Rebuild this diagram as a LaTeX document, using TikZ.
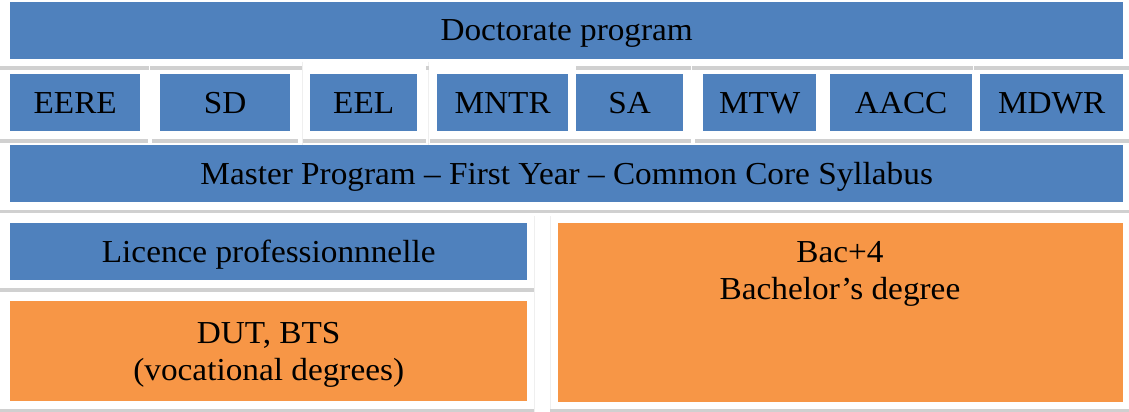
\documentclass[tikz,border=0pt]{standalone}
\usepackage{fontspec}
\setmainfont[FakeStretch=1.04]{Liberation Serif}
\definecolor{boxblue}{HTML}{4F81BD}
\definecolor{boxorange}{HTML}{F79646}
\definecolor{rulegray}{HTML}{D0D0D0}
\definecolor{faintgray}{HTML}{EFEFEF}
\begin{document}
\begin{tikzpicture}[x=1pt,y=-1pt,
  box/.style={draw=none, inner sep=0pt, anchor=north west, text=black, align=center,
              text depth=0pt, font=\fontsize{32}{37}\selectfont},
  bluebox/.style={box, fill=boxblue},
  orangebox/.style={box, fill=boxorange},
  bar/.style={fill=rulegray, draw=none},
  faint/.style={draw=faintgray, line width=1pt}]
\useasboundingbox[fill=white] (0,0) rectangle (1129,412);
% faint cell borders
\draw[faint] (302,62) -- (302,145);
\draw[faint] (428,62) -- (428,145);
\draw[faint] (534,216) -- (534,412);
\draw[faint] (550,216) -- (550,412);
% gray rules
\fill[bar] (0,66) rectangle (149,70);
\fill[bar] (150,66) rectangle (302,70);
\fill[bar] (426,66) rectangle (429,70);
\fill[bar] (576,66) rectangle (691,70);
\fill[bar] (692,66) rectangle (973,70);
\fill[bar] (974,66) rectangle (1129,70);
\fill[bar] (0,139) rectangle (148,143);
\fill[bar] (152,139) rectangle (298,143);
\fill[bar] (303,139) rectangle (426,143);
\fill[bar] (430,139) rectangle (691,143);
\fill[bar] (695,139) rectangle (1129,143);
\fill[bar] (0,210) rectangle (1129,213);
\fill[bar] (0,288) rectangle (534,291.5);
\fill[bar] (0,409) rectangle (534,412);
\fill[bar] (550,409) rectangle (1129,412);
% boxes
\node[bluebox, minimum width=1113pt, minimum height=56.5pt] (doc) at (10,2) {Doctorate program};
\node[bluebox, minimum width=130pt, minimum height=57pt] (eere) at (10,74) {EERE};
\node[bluebox, minimum width=130pt, minimum height=57pt] (sd) at (160,74) {SD};
\node[bluebox, minimum width=107pt, minimum height=57pt] (eel) at (310,74) {EEL};
\node[bluebox, minimum width=131pt, minimum height=57pt] (mntr) at (437,74) {MNTR};
\node[bluebox, minimum width=107pt, minimum height=57pt] (sa) at (576,74) {SA};
\node[bluebox, minimum width=113pt, minimum height=57pt] (mtw) at (703,74) {MTW};
\node[bluebox, minimum width=142pt, minimum height=57pt] (aacc) at (830,74) {AACC};
\node[bluebox, minimum width=143pt, minimum height=57pt] (mdwr) at (980,74) {MDWR};
\node[bluebox, minimum width=1113pt, minimum height=56.5pt] (master) at (10,145) {Master Program – First Year – Common Core Syllabus};
\node[bluebox, minimum width=517pt, minimum height=56.5pt] (lic) at (10,223) {Licence professionnnelle};
\node[orangebox, minimum width=517pt, minimum height=100pt] (dut) at (10,301) {DUT, BTS\\(vocational degrees)};
\node[orangebox, minimum width=565pt, minimum height=179pt] (bac) at (558,223) {};
\node[inner sep=0pt, anchor=north, align=center, font=\fontsize{32}{37}\selectfont] (bactext) at (840,241.5) {Bac+4\\Bachelor’s degree};
\end{tikzpicture}
\end{document}
